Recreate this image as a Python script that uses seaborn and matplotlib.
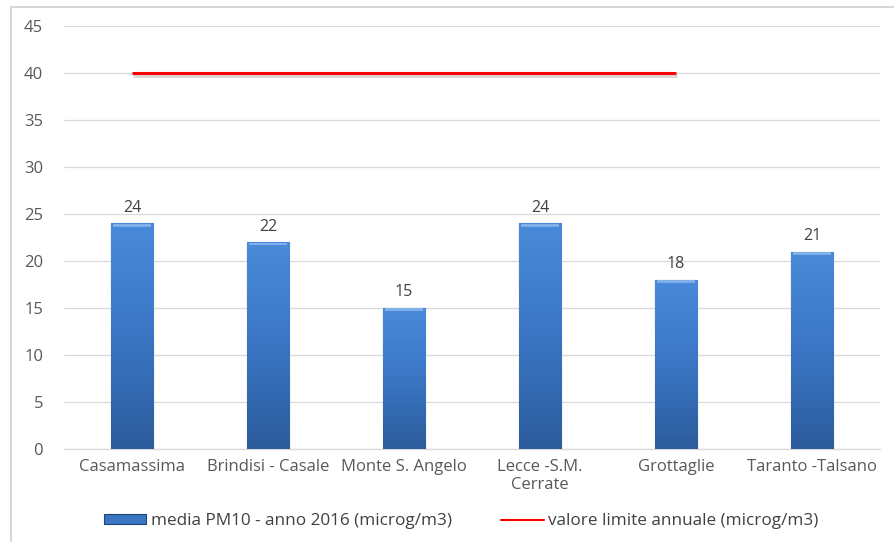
import numpy as np
import pandas as pd
import matplotlib
matplotlib.use("Agg")
import matplotlib.pyplot as plt
import matplotlib.patheffects as pe
from matplotlib.patches import Rectangle
from matplotlib.lines import Line2D
import seaborn as sns

stations = ["Casamassima", "Brindisi - Casale", "Monte S. Angelo",
            "Lecce -S.M.\nCerrate", "Grottaglie", "Taranto -Talsano"]
pm10_mean = [24, 22, 15, 24, 18, 21]
limit_value = [40, 40, 40, 40, 40]
bar_label = "media PM10 - anno 2016 (microg/m3)"
limit_label = "valore limite annuale (microg/m3)"

sns.set_theme(style="white")
plt.rcParams["font.family"] = ["Open Sans", "DejaVu Sans"]

df = pd.DataFrame({"station": stations, "pm10": pm10_mean})

fig = plt.figure(figsize=(8.94, 5.42), dpi=100)
ax = fig.add_axes([64 / 894, (542 - 449) / 542, (880 - 64) / 894, (449 - 26) / 542])

sns.barplot(data=df, x="station", y="pm10", ax=ax, width=0.31,
            color="#3B78C8", edgecolor="#1F4476", linewidth=0.8, zorder=3)

# vertical gradient fill on each bar
grad = np.linspace(0, 1, 256).reshape(-1, 1)
cmap = matplotlib.colors.LinearSegmentedColormap.from_list(
    "bar", ["#2C5C9C", "#3A76C4", "#4A8ADA"])
for p in ax.patches:
    x0, y0 = p.get_x(), p.get_y()
    w, h = p.get_width(), p.get_height()
    im = ax.imshow(grad, cmap=cmap, extent=[x0, x0 + w, y0, y0 + h],
                   origin="lower", aspect="auto", zorder=3.5)
    im.set_clip_path(p)
    # lighter bevel at the top
    ax.add_patch(Rectangle((x0 + w * 0.06, y0 + h - 0.35), w * 0.88, 0.3,
                           facecolor="#7FB0EA", edgecolor="none", zorder=3.6))
    ax.text(x0 + w / 2, y0 + h + 0.8, f"{int(round(h))}", ha="center",
            va="bottom", fontsize=11.5, color="#404040", zorder=5)

ax.plot(range(len(limit_value)), limit_value, color="#FF0000", lw=2.2,
        solid_capstyle="butt", zorder=4,
        path_effects=[pe.SimpleLineShadow(offset=(1, -2), shadow_color="gray", alpha=0.3),
                      pe.Normal()])

ax.set_ylim(0, 45)
ax.set_xlim(-0.5, len(stations) - 0.5)
ax.set_yticks(range(0, 46, 5))
ax.yaxis.grid(True, color="#D9D9D9", lw=0.9, zorder=0)
ax.set_axisbelow(True)
for s in ["left", "right", "top"]:
    ax.spines[s].set_visible(False)
ax.spines["bottom"].set_color("#D9D9D9")
ax.spines["bottom"].set_linewidth(0.9)
ax.tick_params(axis="both", length=0, colors="#595959", labelsize=12, pad=7)
ax.tick_params(axis="y", pad=15)
ax.set_xlabel("")
ax.set_ylabel("")

handles = [Rectangle((0, 0), 1, 1, facecolor="#3A76C4", edgecolor="#1F4476", lw=0.8),
           Line2D([0], [0], color="#FF0000", lw=1.5)]
fig.legend(handles, [bar_label, limit_label], loc="center",
           bbox_to_anchor=(461 / 894, 1 - 521 / 542), ncol=2, frameon=False,
           fontsize=12.3, labelcolor="#404040", handlelength=2.5, handleheight=0.5,
           handletextpad=0.25, columnspacing=2.9)

# outer chart frame
fig.add_artist(Rectangle((11 / 894, -0.05), 1.2, 1 - 7 / 542 + 0.05,
                         transform=fig.transFigure, fill=False,
                         edgecolor="#D0D0D0", lw=1.2))

fig.savefig("out.png", dpi=100)
